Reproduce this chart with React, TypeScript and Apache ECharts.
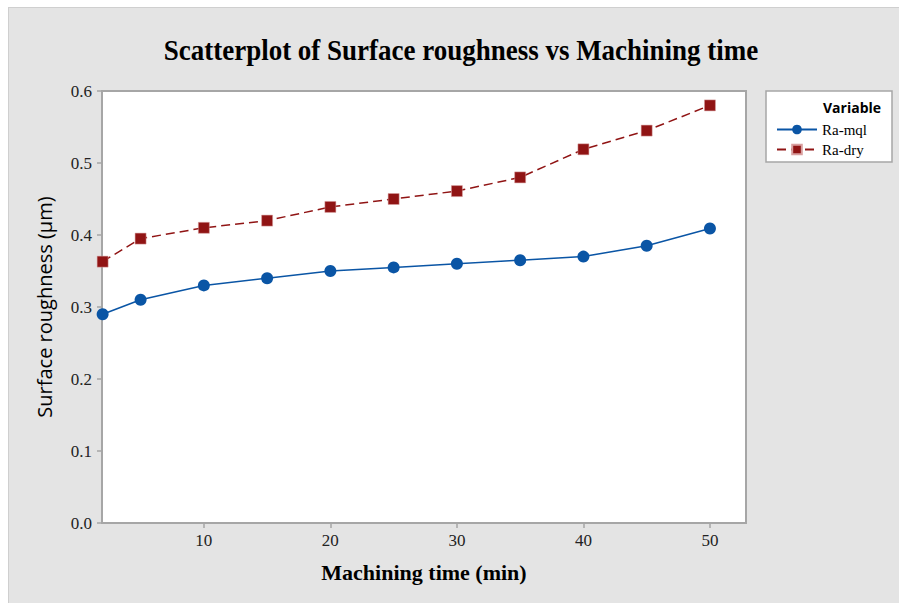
import React, { useEffect, useRef } from "react";
import * as echarts from "echarts";

const machiningTime = [2, 5, 10, 15, 20, 25, 30, 35, 40, 45, 50];
const raMql = [0.29, 0.31, 0.33, 0.34, 0.35, 0.355, 0.36, 0.365, 0.37, 0.385, 0.409];
const raDry = [0.363, 0.395, 0.41, 0.42, 0.439, 0.45, 0.461, 0.48, 0.519, 0.545, 0.58];
const xTicks = [10, 20, 30, 40, 50];
const seriesNames = ["Ra-mql", "Ra-dry"];

const SERIF = '"Liberation Serif", "Times New Roman", serif';
const SANS = '"Open Sans", "Noto Sans", sans-serif';

export default function App() {
  const ref = useRef<HTMLDivElement>(null);
  useEffect(() => {
    if (!ref.current) return;
    const chart = echarts.init(ref.current, undefined, { renderer: "svg" });
    const mqlData = machiningTime.map((t, i) => [t, raMql[i]]);
    const dryData = machiningTime.map((t, i) => [t, raDry[i]]);
    chart.setOption({
      animation: false,
      backgroundColor: "#e4e4e4",
      grid: {
        left: 94,
        top: 84,
        right: 153,
        bottom: 80,
        show: true,
        backgroundColor: "#ffffff",
        borderColor: "#a6a6a6",
        borderWidth: 2,
      },
      graphic: [
        {
          type: "rect",
          shape: { x: 0, y: 0, width: 893, height: 598 },
          style: { fill: "none", stroke: "#cfcfcf", lineWidth: 2 },
          silent: true,
        },
        {
          type: "text",
          x: 453,
          y: 43,
          scaleX: 0.9,
          style: {
            text: "Scatterplot of Surface roughness vs Machining time",
            font: `bold 30px ${SERIF}`,
            fill: "#000",
            textAlign: "center",
            textVerticalAlign: "middle",
          },
        },
        {
          type: "rect",
          shape: { x: 758, y: 84, width: 126, height: 71 },
          style: { fill: "#ffffff", stroke: "#a6a6a6", lineWidth: 1.5 },
          z: 0,
        },
        {
          type: "text",
          x: 815,
          y: 100,
          style: {
            text: "Variable",
            font: `bold 14px ${SANS}`,
            fill: "#000",
            textAlign: "left",
            textVerticalAlign: "middle",
          },
          z: 5,
        },
      ],
      legend: {
        data: seriesNames,
        orient: "vertical",
        left: 763,
        top: 110,
        itemWidth: 40,
        itemHeight: 12,
        itemGap: 5,
        textStyle: { fontFamily: SERIF, fontSize: 15, color: "#000" },
        z: 6,
      },
      xAxis: {
        type: "value",
        min: 1.95,
        max: 52.85,
        name: "Machining time (min)",
        nameLocation: "middle",
        nameGap: 38,
        nameTextStyle: {
          fontFamily: SERIF,
          fontWeight: "bold",
          fontSize: 22,
          color: "#000",
          verticalAlign: "top",
        },
        splitLine: { show: false },
        axisLine: { show: true, lineStyle: { color: "#a6a6a6", width: 2 } },
        axisTick: {
          show: true,
          customValues: xTicks,
          length: 5,
          lineStyle: { color: "#a6a6a6", width: 1.5 },
        },
        axisLabel: {
          customValues: xTicks,
          fontFamily: SERIF,
          fontSize: 17,
          color: "#222",
          margin: 9,
        },
      },
      yAxis: {
        type: "value",
        min: 0,
        max: 0.6,
        interval: 0.1,
        name: "Surface roughness (µm)",
        nameLocation: "middle",
        nameGap: 48,
        nameTextStyle: {
          fontFamily: SANS,
          fontSize: 20,
          color: "#000",
        },
        splitLine: { show: false },
        axisLine: { show: true, lineStyle: { color: "#a6a6a6", width: 2 } },
        axisTick: { show: true, length: 5, lineStyle: { color: "#a6a6a6", width: 1.5 } },
        axisLabel: {
          fontFamily: SERIF,
          fontSize: 17,
          color: "#222",
          margin: 10,
          formatter: (v: number) => v.toFixed(1),
        },
      },
      series: [
        {
          name: seriesNames[0],
          type: "line",
          data: mqlData,
          symbol: "circle",
          symbolSize: 12,
          itemStyle: { color: "#0a55a5" },
          lineStyle: { color: "#0a55a5", width: 1.5 },
          clip: true,
          z: 3,
        },
        {
          name: seriesNames[1],
          type: "line",
          data: dryData,
          symbol: "rect",
          symbolSize: 11,
          itemStyle: { color: "#901414", borderColor: "#d9a0a0", borderWidth: 0.5 },
          lineStyle: { color: "#901414", width: 1.5, type: [9, 5] },
          clip: true,
          z: 3,
        },
      ],
    });
    return () => chart.dispose();
  }, []);
  return (
    <div
      ref={ref}
      style={{ position: "fixed", left: 8, top: 7, width: 891, height: 596 }}
    />
  );
}
